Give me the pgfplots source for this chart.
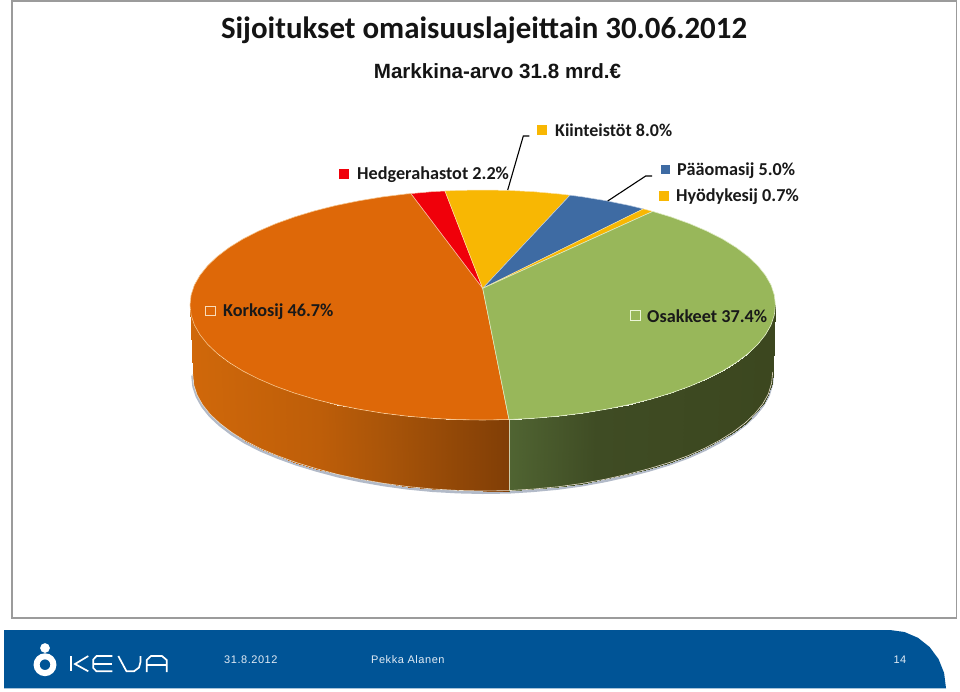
\documentclass[border=0pt]{standalone}
\usepackage{pgfplots}
\pgfplotsset{compat=1.18}
\usepackage{pgfplotstable}
\usepackage{fontspec}
\setmainfont{Carlito}
\newfontfamily\hv{Liberation Sans}
\newfontfamily\ls[LetterSpace=5]{Liberation Sans}
\definecolor{ctop}{RGB}{222,104,8}
\definecolor{cred}{RGB}{240,0,10}
\definecolor{cgold}{RGB}{248,183,3}
\definecolor{cblue}{RGB}{62,107,163}
\definecolor{cgreen}{RGB}{152,183,90}
\definecolor{cfoot}{RGB}{0,84,150}
\definecolor{cframe}{RGB}{155,155,155}
\pgfplotstableread{
x y
192.7 374
193.8 385
197.1 395
202.6 404.8
210.2 414.3
219.9 423.4
231.6 432.3
245.1 440.8
260.6 448.7
277.6 455.8
296.3 462.6
316.4 468.7
337.7 474.4
360.1 479.2
383.5 483.3
407.6 486.6
432.4 489
457.4 490.4
482.7 491
509 490.6
533 489.1
557.8 486.8
581.9 483.5
605.3 479.2
627.7 474.2
649 468.7
669.1 462.6
687.8 455.8
704.8 448.2
720.3 440
733.8 431.5
745.5 422.6
755.2 413.3
762.8 403.8
768.3 394
771.6 383
772.7 372
}\bottomarc
\begin{document}
\begin{tikzpicture}
\begin{axis}[
  at={(0,0)}, anchor=south west,
  scale only axis, width=960pt, height=691pt,
  xmin=0, xmax=960, ymin=0, ymax=691, y dir=reverse,
  hide axis, clip=false,
  colormap={wall}{rgb255(0cm)=(208,104,10); rgb255(4cm)=(190,94,9); rgb255(6cm)=(170,85,9); rgb255(10cm)=(128,62,6); rgb255(11cm)=(80,100,50); rgb255(14cm)=(63,76,36); rgb255(20cm)=(60,71,31)},
  point meta min=0, point meta max=20,
]
\path (axis cs:0,0) rectangle (axis cs:960,691);
% frame
\addplot[cframe, line width=1.4pt] coordinates {(12,1) (956.7,1) (956.7,618) (12,618)} --cycle;
% footer band
\addplot[fill=cfoot, draw=none] coordinates {(4,630) (890,630) (904.5,632) (918,637.8) (929.6,647) (938.5,659) (944.1,673) (946,688.3) (4,688.3)} --cycle;
% shadow below the pie
\addplot[color={rgb,255:red,178;green,186;blue,200}, line width=3pt, yshift=-1.5pt] table {\bottomarc};
% walls
\addplot[patch, patch type=rectangle, shader=interp, point meta=explicit] coordinates {
(509,419.5)[9.97] (482.7,420)[9.15] (482.7,491)[9.15] (509,490.6)[9.97]
(482.7,420)[9.15] (457.2,419.6)[8.35] (457.4,490.4)[8.35] (482.7,491)[9.15]
(457.2,419.6)[8.35] (431.9,418.3)[7.56] (432.4,489)[7.56] (457.4,490.4)[8.35]
(431.9,418.3)[7.56] (406.9,416.1)[6.78] (407.6,486.6)[6.78] (432.4,489)[7.56]
(406.9,416.1)[6.78] (382.6,413.1)[6.03] (383.5,483.3)[6.03] (407.6,486.6)[6.78]
(382.6,413.1)[6.03] (359,409.2)[5.3] (360.1,479.2)[5.3] (383.5,483.3)[6.03]
(359,409.2)[5.3] (336.3,404.6)[4.6] (337.7,474.4)[4.6] (360.1,479.2)[5.3]
(336.3,404.6)[4.6] (314.8,399.2)[3.92] (316.4,468.7)[3.92] (337.7,474.4)[4.6]
(314.8,399.2)[3.92] (294.6,393.1)[3.3] (296.3,462.6)[3.3] (316.4,468.7)[3.92]
(294.6,393.1)[3.3] (275.7,386.3)[2.7] (277.6,455.8)[2.7] (296.3,462.6)[3.3]
(275.7,386.3)[2.7] (258.5,378.9)[2.17] (260.6,448.7)[2.17] (277.6,455.8)[2.7]
(258.5,378.9)[2.17] (242.9,371)[1.69] (245.1,440.8)[1.69] (260.6,448.7)[2.17]
(242.9,371)[1.69] (229.2,362.5)[1.26] (231.6,432.3)[1.26] (245.1,440.8)[1.69]
(229.2,362.5)[1.26] (217.4,353.6)[0.89] (219.9,423.4)[0.89] (231.6,432.3)[1.26]
(217.4,353.6)[0.89] (207.6,344.3)[0.59] (210.2,414.3)[0.59] (219.9,423.4)[0.89]
(207.6,344.3)[0.59] (200,334.8)[0.35] (202.6,404.8)[0.35] (210.2,414.3)[0.59]
(200,334.8)[0.35] (194.4,325)[0.18] (197.1,395)[0.18] (202.6,404.8)[0.35]
(194.4,325)[0.18] (191.1,315)[0.07] (193.8,385)[0.07] (197.1,395)[0.18]
(191.1,315)[0.07] (190,305)[0.03] (192.7,374)[0.03] (193.8,385)[0.07]
(509,419.5)[11] (533.5,418.3)[11.84] (533,489.1)[11.84] (509,490.6)[11]
(533.5,418.3)[11.84] (558.5,416.1)[12.7] (557.8,486.8)[12.7] (533,489.1)[11.84]
(558.5,416.1)[12.7] (582.8,413.1)[13.53] (581.9,483.5)[13.53] (557.8,486.8)[12.7]
(582.8,413.1)[13.53] (606.4,409.2)[14.36] (605.3,479.2)[14.36] (581.9,483.5)[13.53]
(606.4,409.2)[14.36] (629.1,404.6)[15.13] (627.7,474.2)[15.13] (605.3,479.2)[14.36]
(629.1,404.6)[15.13] (650.6,399.2)[15.87] (649,468.7)[15.87] (627.7,474.2)[15.13]
(650.6,399.2)[15.87] (670.8,393.1)[16.55] (669.1,462.6)[16.55] (649,468.7)[15.87]
(670.8,393.1)[16.55] (689.7,386.3)[17.2] (687.8,455.8)[17.2] (669.1,462.6)[16.55]
(689.7,386.3)[17.2] (706.9,378.9)[17.8] (704.8,448.2)[17.8] (687.8,455.8)[17.2]
(706.9,378.9)[17.8] (722.5,371)[18.3] (720.3,440)[18.3] (704.8,448.2)[17.8]
(722.5,371)[18.3] (736.2,362.5)[18.8] (733.8,431.5)[18.8] (720.3,440)[18.3]
(736.2,362.5)[18.8] (748,353.6)[19.2] (745.5,422.6)[19.2] (733.8,431.5)[18.8]
(748,353.6)[19.2] (757.8,344.3)[19.5] (755.2,413.3)[19.5] (745.5,422.6)[19.2]
(757.8,344.3)[19.5] (765.4,334.8)[19.8] (762.8,403.8)[19.8] (755.2,413.3)[19.5]
(765.4,334.8)[19.8] (771,325)[20] (768.3,394)[20] (762.8,403.8)[19.8]
(771,325)[20] (774.3,315)[20] (771.6,383)[20] (768.3,394)[20]
(774.3,315)[20] (775.4,305)[20] (772.7,372)[20] (771.6,383)[20]
};
% light rim along the bottom of the wall, and the seam
\addplot[color={rgb,255:red,232;green,222;blue,205}, line width=0.6pt] table {\bottomarc};
\addplot[color={rgb,255:red,205;green,205;blue,170}, line width=0.7pt] coordinates {(509,419.5) (509,490.6)};
% top slices
\addplot[fill=ctop, draw={rgb,255:red,246;green,196;blue,140}, line width=0.6pt] coordinates {
(482.7,288.3) (509,419.5) (482.7,420) (457.2,419.6) (431.9,418.3) (406.9,416.1) (382.6,413.1) (359,409.2) (336.3,404.6) (314.8,399.2) (294.6,393.1) (275.7,386.3) (258.5,378.9) (242.9,371) (229.2,362.5) (217.4,353.6) (207.6,344.3) (200,334.8) (194.4,325) (191.1,315) (190,305) (191.1,295) (194.4,285) (200,275.2) (207.6,265.7) (217.4,256.4) (229.2,247.5) (242.9,239) (258.5,231.1) (275.7,223.7) (294.6,216.9) (314.8,210.8) (336.3,205.4) (359,200.8) (382.6,196.9) (406.9,193.9) (411,193.6)} --cycle;
\addplot[fill=cred, draw={rgb,255:red,250;green,190;blue,170}, line width=0.5pt] coordinates {
(482.7,288.3) (411,193.6) (431.9,191.7) (445,191)} --cycle;
\addplot[fill=cgold, draw={rgb,255:red,252;green,225;blue,160}, line width=0.5pt] coordinates {
(482.7,288.3) (445,191) (457.2,190.4) (482.7,190) (508.2,190.4) (533.5,191.7) (558.5,193.9) (570,195.2)} --cycle;
\addplot[fill=cblue, draw={rgb,255:red,190;green,205;blue,225}, line width=0.5pt] coordinates {
(482.7,288.3) (570,195.2) (582.8,196.9) (606.4,200.8) (629.1,205.4) (643.3,208.9)} --cycle;
\addplot[fill=cgold, draw={rgb,255:red,250;green,230;blue,170}, line width=0.4pt] coordinates {
(482.7,288.3) (643.3,208.9) (650.6,210.8) (652.7,211.4)} --cycle;
\addplot[fill=cgreen, draw={rgb,255:red,222;green,235;blue,195}, line width=0.6pt] coordinates {
(482.7,288.3) (652.7,211.4) (670.8,216.9) (689.7,223.7) (706.9,231.1) (722.5,239) (736.2,247.5) (748,256.4) (757.8,265.7) (765.4,275.2) (771,285) (774.3,295) (775.4,305) (774.3,315) (771,325) (765.4,334.8) (757.8,344.3) (748,353.6) (736.2,362.5) (722.5,371) (706.9,378.9) (689.7,386.3) (670.8,393.1) (650.6,399.2) (629.1,404.6) (606.4,409.2) (582.8,413.1) (558.5,416.1) (533.5,418.3) (509,419.5)} --cycle;
% leader lines
\addplot[black, line width=1.1pt] coordinates {(507.7,190) (523.3,136) (529.3,136)};
\addplot[black, line width=1.1pt] coordinates {(607.7,201) (645.7,176) (652,176)};
% legend keys
\addplot[only marks, mark=square*, mark size=4.5pt, mark options={fill=cred, draw=cred}] coordinates {(344,174)};
\addplot[only marks, mark=square*, mark size=4.5pt, mark options={fill=cgold, draw=cgold}] coordinates {(542,129.5) (664,196)};
\addplot[only marks, mark=square*, mark size=4.3pt, mark options={fill=cblue, draw=cblue}] coordinates {(665,169)};
\addplot[only marks, mark=square, mark size=4.8pt, mark options={draw={rgb,255:red,248;green,220;blue,185}, line width=1pt}] coordinates {(210.6,311)};
\addplot[only marks, mark=square, mark size=4.8pt, mark options={draw={rgb,255:red,235;green,245;blue,215}, line width=1pt}] coordinates {(635.5,315.5)};
% logo
\addplot[only marks, mark=*, mark size=4.6pt, mark options={fill=white, draw=white}] coordinates {(45,648)};
\addplot[only marks, mark=*, mark size=8.4pt, mark options={fill=cfoot, draw=white, line width=6pt}, forget plot] coordinates {(45,664.7)};
\addplot[white, line width=1.7pt] coordinates {(71,656) (71,671.3)};
\addplot[white, line width=1.7pt] coordinates {(88.3,656) (75,664) (88.3,671.3)};
\addplot[white, line width=1.7pt] coordinates {(112.3,656) (96.5,656) (93.3,659.5) (93.3,668) (96.5,671.3) (112.3,671.3)};
\addplot[white, line width=1.7pt] coordinates {(93.3,664) (112.3,664)};
\addplot[white, line width=1.7pt] coordinates {(118.3,656) (126.5,671.3) (134,671.3) (139,667.5) (140.5,662) (140.5,656)};
\addplot[white, line width=1.7pt] coordinates {(146.7,672) (146.7,660) (151,656) (162,656) (166.7,660) (166.7,672)};
\addplot[white, line width=1.7pt] coordinates {(146.7,665) (166.7,665)};
% text
\node[anchor=center, inner sep=0pt, text=black!92] at (484,30) {\fontsize{30.9}{33}\selectfont\bfseries Sijoitukset omaisuuslajeittain 30.06.2012};
\node[anchor=center, inner sep=0pt, text=black!92] at (497.5,71) {\hv\fontsize{20.6}{22}\selectfont\bfseries Markkina-arvo 31.8 mrd.€};
\node[anchor=west, inner sep=0pt, text=black!90] at (357,175) {\fontsize{18.2}{20}\selectfont\bfseries Hedgerahastot 2.2\%};
\node[anchor=west, inner sep=0pt, text=black!90] at (555,130.5) {\fontsize{18}{20}\selectfont\bfseries Kiinteistöt 8.0\%};
\node[anchor=west, inner sep=0pt, text=black!90] at (677,170.5) {\fontsize{18.2}{20}\selectfont\bfseries Pääomasij 5.0\%};
\node[anchor=west, inner sep=0pt, text=black!90] at (676,197) {\fontsize{18.2}{20}\selectfont\bfseries Hyödykesij 0.7\%};
\node[anchor=west, inner sep=0pt, text=black!90] at (223,312) {\fontsize{18.2}{20}\selectfont\bfseries Korkosij 46.7\%};
\node[anchor=west, inner sep=0pt, text=black!90] at (647,316.5) {\fontsize{18.2}{20}\selectfont\bfseries Osakkeet 37.4\%};
\node[anchor=west, inner sep=0pt, text={rgb,255:red,225;green,235;blue,245}] at (224,660) {\ls\fontsize{11}{12}\selectfont 31.8.2012};
\node[anchor=west, inner sep=0pt, text={rgb,255:red,225;green,235;blue,245}] at (371,660) {\ls\fontsize{11}{12}\selectfont Pekka Alanen};
\node[anchor=west, inner sep=0pt, text={rgb,255:red,225;green,235;blue,245}] at (893.3,660) {\ls\fontsize{11}{12}\selectfont 14};
\end{axis}
\end{tikzpicture}
\end{document}
